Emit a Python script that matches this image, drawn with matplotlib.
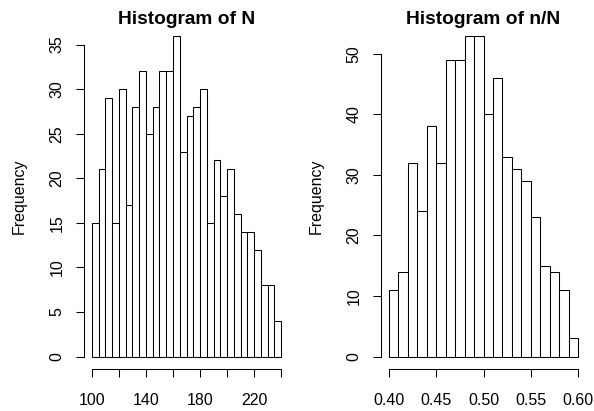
import numpy as np
import matplotlib
matplotlib.use("Agg")
import matplotlib.pyplot as plt

# histogram of N: bins of width 5 from 100 to 240
n_edges = np.arange(100, 245, 5)
n_counts = [15, 21, 29, 15, 30, 17, 28, 32, 25, 28, 32, 32, 36, 23,
            27, 28, 30, 15, 22, 18, 21, 16, 14, 14, 12, 8, 8, 4]
n_xticks = [100, 120, 140, 160, 180, 200, 220, 240]
n_xlabels = ["100", "", "140", "", "180", "", "220", ""]
n_yticks = [0, 5, 10, 15, 20, 25, 30, 35]

# histogram of n/N: bins of width 0.01 from 0.40 to 0.60
r_edges = np.round(np.arange(0.40, 0.605, 0.01), 2)
r_counts = [11, 14, 32, 24, 38, 32, 49, 49, 53, 53,
            40, 46, 33, 31, 29, 23, 15, 14, 11, 3]
r_xticks = [0.40, 0.45, 0.50, 0.55, 0.60]
r_xlabels = ["0.40", "0.45", "0.50", "0.55", "0.60"]
r_yticks = [0, 10, 20, 30, 40, 50]

plt.rcParams["font.family"] = ["Liberation Sans", "DejaVu Sans"]

fig = plt.figure(figsize=(5.94, 4.11), dpi=100)
W, H = 594, 411
panels = [
    (n_edges, n_counts, n_xticks, n_xlabels, n_yticks, "Histogram of N", 0),
    (r_edges, r_counts, r_xticks, r_xlabels, r_yticks, "Histogram of n/N", 297),
]

for edges, counts, xt, xl, yt, title, off in panels:
    left, right = off + 84.4, off + 288.6
    top, bottom = 22.8, 369.4
    ax = fig.add_axes([left / W, 1 - bottom / H, (right - left) / W, (bottom - top) / H])
    widths = np.diff(edges)
    ax.bar(edges[:-1], counts, width=widths, align="edge",
           facecolor="white", edgecolor="black", linewidth=0.75)
    lo, hi = edges[0], edges[-1]
    pad = 0.04 * (hi - lo)
    ax.set_xlim(lo - pad, hi + pad)
    ymax = max(counts)
    ax.set_ylim(-0.04 * ymax, ymax * 1.04)

    for s in ["top", "right"]:
        ax.spines[s].set_visible(False)
    ax.spines["bottom"].set_bounds(xt[0], xt[-1])
    ax.spines["left"].set_bounds(yt[0], yt[-1])
    for s in ["bottom", "left"]:
        ax.spines[s].set_linewidth(0.75)

    ax.set_xticks(xt)
    ax.set_xticklabels(xl)
    ax.set_yticks(yt)
    ax.set_yticklabels([str(v) for v in yt], rotation=90, va="center")
    ax.tick_params(direction="out", length=6, width=0.75, labelsize=11.5)
    ax.tick_params(axis="x", pad=11)
    ax.tick_params(axis="y", pad=8.5)

    ax.set_title(title, fontsize=13.8, fontweight="bold", pad=0, y=1.0)
    ax.title.set_position((0.5, 1 + (top - 17 - 7) / (bottom - top)))
    ax.set_ylabel("Frequency", fontsize=11.5)
    ax.yaxis.set_label_coords(-(84.4 - 27) / 204.2, 0.5)

fig.savefig("out.png", dpi=100)
